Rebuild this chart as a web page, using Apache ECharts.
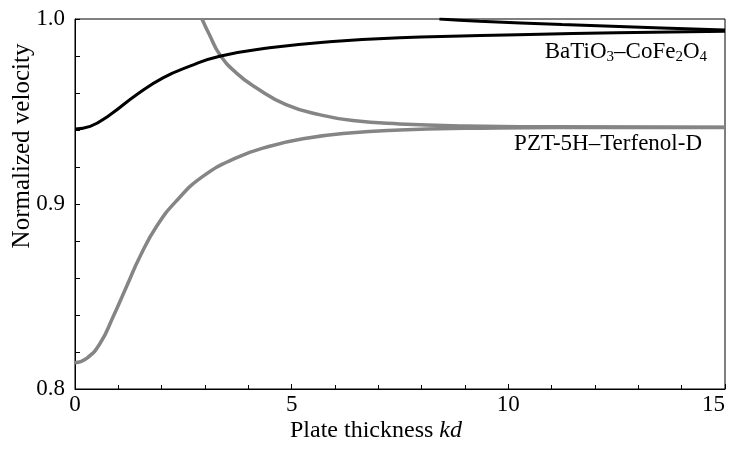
<!DOCTYPE html>
<html>
<head>
<meta charset="utf-8">
<script src="https://cdn.jsdelivr.net/npm/echarts@6/dist/echarts.min.js"></script>
<style>html,body{margin:0;padding:0;background:#fff}#c{width:729px;height:450px}</style>
</head>
<body>
<div id="c"></div>
<script>
// BaTiO3–CoFe2O4, fundamental mode
var baX1 = [0, 0.35, 0.81, 1.42, 2.03, 2.65, 3.34, 4.49, 5.87, 7.49, 10.48, 12.5, 15];
var baY1 = [0.9406, 0.9420, 0.9483, 0.9591, 0.9682, 0.9745, 0.9799, 0.9844, 0.9877, 0.9898, 0.9916, 0.9926, 0.9934];
// BaTiO3–CoFe2O4, upper branch
var baX2 = [8.41, 9.33, 11.24, 13.54, 15];
var baY2 = [1.0, 0.9988, 0.9970, 0.9952, 0.9940];
// PZT-5H–Terfenol-D, fundamental mode
var pztX1 = [0, 0.27, 0.58, 0.88, 1.19, 1.5, 1.88, 2.33, 2.95, 3.72, 4.49, 5.26, 6.33, 7.5, 9, 11, 13, 15];
var pztY1 = [0.8142, 0.8166, 0.8247, 0.8391, 0.8554, 0.8716, 0.8878, 0.9014, 0.9149, 0.9249, 0.9312, 0.9353, 0.9384, 0.9400, 0.9409, 0.9413, 0.9414, 0.9414];
// PZT-5H–Terfenol-D, upper branch
var pztX2 = [2.93, 3.1, 3.34, 3.72, 4.18, 4.87, 5.64, 6.41, 7.49, 9, 11, 15];
var pztY2 = [1.0, 0.9916, 0.9808, 0.9709, 0.9628, 0.9537, 0.9483, 0.9451, 0.9433, 0.9422, 0.9417, 0.9415];

var xTicks = [0, 5, 10, 15];
var yTicks = [0.8, 0.9, 1.0];

function pairs(xs, ys) { return xs.map(function (x, i) { return [x, ys[i]]; }); }

var FONT = 'Liberation Serif';
var chart = echarts.init(document.getElementById('c'));

function lineSeries(xs, ys, color, width) {
  return {
    type: 'line', data: pairs(xs, ys), showSymbol: false, smooth: 0.5,
    clip: true, lineStyle: { color: color, width: width }, silent: true, animation: false
  };
}

chart.setOption({
  animation: false,
  grid: { left: 75, right: 4, top: 19, bottom: 61, containLabel: false, outerBoundsMode: 'none',
          show: true, borderColor: '#000', borderWidth: 1, backgroundColor: 'transparent' },
  xAxis: {
    type: 'value', min: xTicks[0], max: xTicks[xTicks.length - 1], interval: 5,
    axisLine: { lineStyle: { color: '#000', width: 1 } },
    axisTick: { inside: true, length: 5, lineStyle: { color: '#000' } },
    minorTick: { show: true, splitNumber: 5, length: 4, lineStyle: { color: '#000' } },
    splitLine: { show: false },
    axisLabel: { color: '#000', fontFamily: FONT, fontSize: 23, margin: 4, hideOverlap: false, alignMaxLabel: 'right' }
  },
  yAxis: {
    type: 'value', min: yTicks[0], max: yTicks[yTicks.length - 1], interval: 0.1,
    axisLine: { show: true, lineStyle: { color: '#000', width: 1 } },
    axisTick: { show: true, inside: true, length: 5, lineStyle: { color: '#000' } },
    minorTick: { show: true, splitNumber: 5, length: 5, lineStyle: { color: '#000' } },
    splitLine: { show: false },
    axisLabel: { color: '#000', fontFamily: FONT, fontSize: 23, margin: 10, formatter: function (v) { return v.toFixed(1); } }
  },
  series: [
    lineSeries(pztX1, pztY1, '#858585', 3.5),
    lineSeries(pztX2, pztY2, '#858585', 3.5),
    lineSeries(baX1, baY1, '#000000', 3),
    lineSeries(baX2, baY2, '#000000', 3)
  ],
  graphic: [
    {
      type: 'text', x: 376, y: 431,
      style: {
        text: '{a|Plate thickness }{b|kd}', align: 'center', verticalAlign: 'middle',
        rich: {
          a: { fontFamily: FONT, fontSize: 24, fill: '#000' },
          b: { fontFamily: FONT, fontSize: 24, fontStyle: 'italic', fill: '#000' }
        }
      }
    },
    {
      type: 'text', x: 22, y: 146, rotation: Math.PI / 2,
      style: { text: 'Normalized velocity', fontFamily: FONT, fontSize: 25, fill: '#000', align: 'center', verticalAlign: 'middle' }
    },
    {
      type: 'text', x: 707, y: 52,
      style: {
        text: '{a|BaTiO}{s|3}{a|–CoFe}{s|2}{a|O}{s|4}', align: 'right', verticalAlign: 'middle',
        rich: {
          a: { fontFamily: FONT, fontSize: 23, lineHeight: 26, fill: '#000' },
          s: { fontFamily: FONT, fontSize: 15, lineHeight: 15, verticalAlign: 'bottom', fill: '#000' }
        }
      }
    },
    {
      type: 'text', x: 702, y: 144,
      style: { text: 'PZT-5H–Terfenol-D', fontFamily: FONT, fontSize: 23, fill: '#000', align: 'right', verticalAlign: 'middle' }
    }
  ]
});
</script>
</body>
</html>
